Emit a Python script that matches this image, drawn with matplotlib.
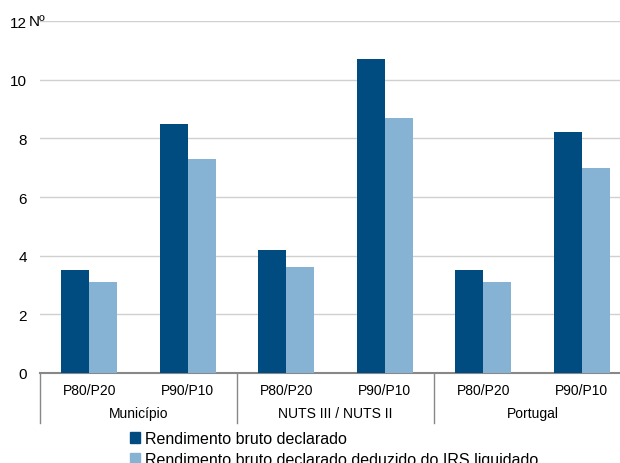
import numpy as np
import matplotlib.pyplot as plt
from matplotlib.patches import Patch

plt.rcParams['font.family'] = ['Liberation Sans', 'DejaVu Sans']

# Data
groups = ['Município', 'NUTS III / NUTS II', 'Portugal']
ratios = ['P80/P20', 'P90/P10']
bruto = [3.5, 8.5, 4.2, 10.7, 3.5, 8.2]
liquido = [3.1, 7.3, 3.6, 8.7, 3.1, 7.0]
series_names = ['Rendimento bruto declarado',
                'Rendimento bruto declarado deduzido do IRS liquidado']
yticks = [0, 2, 4, 6, 8, 10, 12]

dark = '#004b80'
light = '#86b3d4'

fig = plt.figure(figsize=(6.2, 4.64), dpi=100)
W, H = 620, 464
ax = fig.add_axes([40 / W, (H - 374) / H, 580 / W, 352 / H])

x = np.arange(len(bruto))
bw = 0.285
ax.bar(x - bw / 2, bruto, bw, color=dark, zorder=3)
ax.bar(x + bw / 2, liquido, bw, color=light, zorder=3)

ax.set_ylim(0, 12)
ax.set_xlim(-0.5, -0.5 + 580 / 98.5)
ax.set_yticks(yticks)
ax.tick_params(axis='y', length=0, labelsize=11, pad=9.5)
ax.text(-11 / 580, 12, 'Nº', transform=ax.get_yaxis_transform(),
        ha='left', va='center', fontsize=11)
ax.set_xticks([])
ax.yaxis.grid(True, color='#d0d0d0', linewidth=1)
ax.set_axisbelow(True)
for s in ['top', 'right', 'left']:
    ax.spines[s].set_visible(False)
ax.spines['bottom'].set_color('#888888')
ax.spines['bottom'].set_linewidth(1.5)

trans = ax.get_xaxis_transform()
px = 1 / 352  # one pixel in axes-height units
for i in range(len(bruto)):
    ax.text(i, -17 * px, ratios[i % 2], transform=trans, ha='center',
            va='center', fontsize=10)
for g, name in enumerate(groups):
    ax.text(2 * g + 0.5, -40 * px, name, transform=trans, ha='center',
            va='center', fontsize=10)
for b in [-0.5, 1.5, 3.5]:
    ax.plot([b, b], [0, -50 * px], transform=trans, color='#888888',
            linewidth=1, clip_on=False)

handles = [Patch(color=dark), Patch(color=light)]
fig.legend(handles, series_names, loc='upper left',
           bbox_to_anchor=(122 / W, 1 - 424 / H), frameon=False,
           fontsize=11.5, handlelength=0.65, handleheight=0.65,
           handletextpad=0.3, labelspacing=0.35, borderpad=0)

fig.savefig('out.png', dpi=100)
